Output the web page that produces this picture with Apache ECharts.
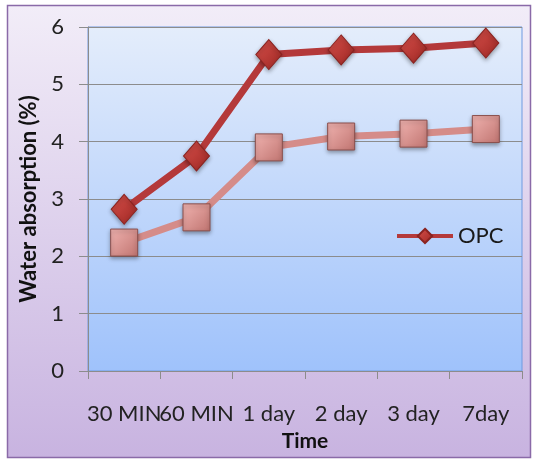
<!DOCTYPE html>
<html>
<head>
<meta charset="utf-8">
<script src="https://cdn.jsdelivr.net/npm/echarts@6/dist/echarts.min.js"></script>
<style>
  html, body { margin: 0; padding: 0; background: #fff; }
  #chart { width: 534px; height: 461px; }
</style>
</head>
<body>
<div id="chart"></div>
<script>
  // data
  const categories = ['30 MIN', '60 MIN', '1 day', '2 day', '3 day', '7day']
  const opcData = [2.82, 3.75, 5.52, 5.6, 5.63, 5.72]
  const secondData = [2.24, 2.68, 3.9, 4.09, 4.14, 4.22]
  const yTicks = [0, 1, 2, 3, 4, 5, 6]

  const font = 'Lato, "Open Sans", sans-serif'

  let chart = echarts.init(document.getElementById('chart'))

  const option = {
    animation: false,
    backgroundColor: '#fff',
    graphic: [
      {
        type: 'rect',
        shape: { x: 7.5, y: 5.5, width: 523, height: 452 },
        style: {
          fill: new echarts.graphic.LinearGradient(0, 0, 0, 1, [
            { offset: 0, color: '#f2edf8' },
            { offset: 1, color: '#c8b3e0' }
          ]),
          stroke: '#8a6aa8',
          lineWidth: 1.5
        },
        z: -10
      }
    ],
    grid: {
      left: 88,
      right: 12,
      top: 27,
      bottom: 90,
      show: true,
      backgroundColor: new echarts.graphic.LinearGradient(0, 0, 0, 1, [
        { offset: 0, color: '#e4edfb' },
        { offset: 1, color: '#9fc2fb' }
      ]),
      borderColor: '#6f9be0',
      borderWidth: 1
    },
    legend: {
      data: ['OPC'],
      left: 390,
      top: 220,
      itemWidth: 56,
      itemHeight: 18,
      itemGap: 4,
      lineStyle: { width: 4 },
      textStyle: { fontFamily: font, fontSize: 22, color: '#1a1a1a' }
    },
    xAxis: {
      type: 'category',
      data: categories,
      boundaryGap: true,
      name: 'Time',
      nameLocation: 'middle',
      nameGap: 60,
      nameTextStyle: { fontFamily: font, fontSize: 21, fontWeight: 'bold', color: '#111' },
      axisLine: { lineStyle: { color: '#8c8c8c', width: 1 } },
      axisTick: { show: true, length: 8, lineStyle: { color: '#8c8c8c' } },
      axisLabel: { interval: 0, margin: 32, fontFamily: font, fontSize: 22, color: '#222' }
    },
    yAxis: {
      type: 'value',
      min: yTicks[0],
      max: yTicks[yTicks.length - 1],
      interval: 1,
      name: 'Water absorption (%)',
      nameLocation: 'middle',
      nameGap: 47,
      nameRotate: 90,
      nameTextStyle: { fontFamily: font, fontSize: 22, fontWeight: 'bold', color: '#111' },
      axisLine: { show: true, lineStyle: { color: '#8c8c8c', width: 1 } },
      axisTick: { show: true, length: 9, lineStyle: { color: '#8c8c8c' } },
      splitLine: { lineStyle: { color: '#8c8c8c', width: 1 } },
      axisLabel: { margin: 24, fontFamily: font, fontSize: 22, color: '#222' }
    },
    series: [
      {
        name: 'Second',
        type: 'line',
        data: secondData,
        symbol: 'rect',
        symbolSize: 27,
        lineStyle: { color: '#d58c89', width: 7 },
        itemStyle: {
          color: new echarts.graphic.LinearGradient(0, 0, 1, 1, [
            { offset: 0, color: '#f0b3b0' },
            { offset: 1, color: '#c07470' }
          ]),
          borderColor: '#8a4f4c',
          borderWidth: 1,
          shadowColor: 'rgba(0,0,0,0.35)',
          shadowBlur: 4,
          shadowOffsetY: 2
        },
        z: 2
      },
      {
        name: 'OPC',
        type: 'line',
        data: opcData,
        symbol: 'diamond',
        symbolSize: [26, 30],
        lineStyle: { color: '#b4393a', width: 7 },
        itemStyle: {
          color: new echarts.graphic.LinearGradient(0, 0, 1, 1, [
            { offset: 0, color: '#d9514c' },
            { offset: 1, color: '#9c2622' }
          ]),
          borderColor: '#8a2320',
          borderWidth: 1,
          shadowColor: 'rgba(0,0,0,0.35)',
          shadowBlur: 4,
          shadowOffsetY: 2
        },
        z: 3
      }
    ]
  }

  chart.setOption(option)
  window.onresize = () => {
    chart.resize()
  }
</script>
</body>
</html>
